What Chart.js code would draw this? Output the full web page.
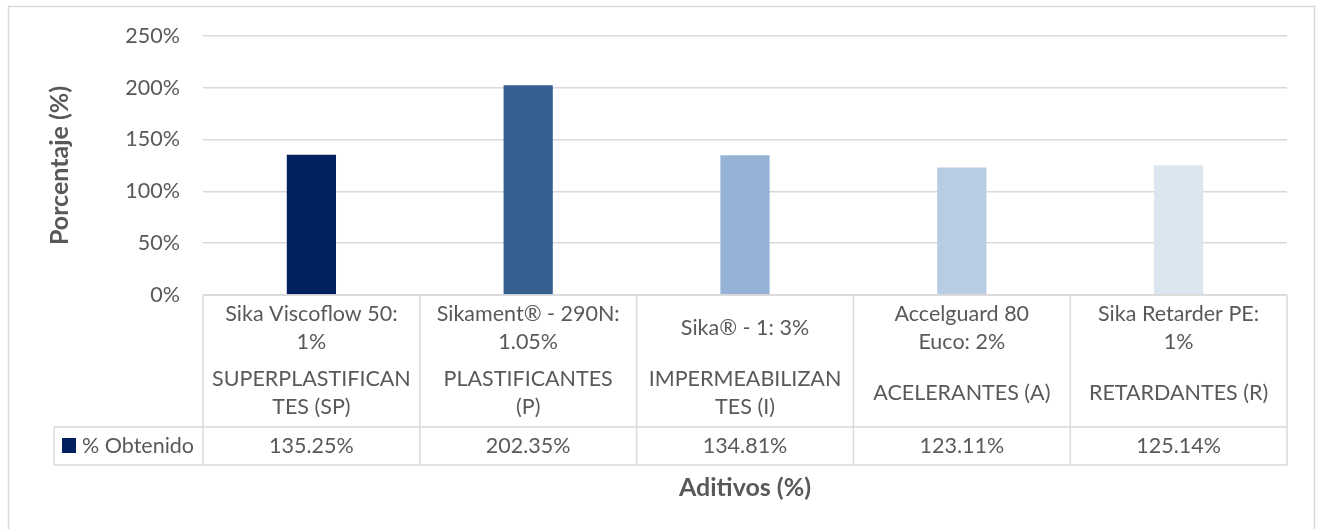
<!DOCTYPE html>
<html>
<head>
<meta charset="utf-8">
<script src="https://cdn.jsdelivr.net/npm/chart.js@4.4.1/dist/chart.umd.min.js"></script>
<style>
  html, body { margin: 0; padding: 0; background: #fff; }
  #wrap { width: 1319px; height: 529px; position: relative; }
</style>
</head>
<body>
<div id="wrap"><canvas id="aditivosChart"></canvas></div>
<script>
// data
const productos = [
  ["Sika Viscoflow 50:", "1%"],
  ["Sikament® - 290N:", "1.05%"],
  ["Sika® - 1: 3%"],
  ["Accelguard 80", "Euco: 2%"],
  ["Sika Retarder PE:", "1%"]
];
const grupos = [
  ["SUPERPLASTIFICAN", "TES (SP)"],
  ["PLASTIFICANTES", "(P)"],
  ["IMPERMEABILIZAN", "TES (I)"],
  ["ACELERANTES (A)"],
  ["RETARDANTES (R)"]
];
const obtenido = [135.25, 202.35, 134.81, 123.11, 125.14];
const serieNombre = "% Obtenido";
const barColors = ["#002060", "#376092", "#95b3d7", "#b8cce4", "#dce6f1"];
const yMin = 0, yMax = 250, yStep = 50;

const FONT = "Lato, 'Open Sans', sans-serif";
const TEXT = "#595959";
const LINE = "#d9d9d9";
const BODY_SIZE = 21.5;
const TITLE_SIZE = 25;

Chart.defaults.font.family = FONT;
Chart.defaults.color = TEXT;

// draws the frame, the Excel-like data table and the x title
const dataTablePlugin = {
  id: "dataTable",
  beforeDraw(chart) {
    const ctx = chart.ctx;
    ctx.save();
    ctx.strokeStyle = LINE;
    ctx.lineWidth = 1.5;
    ctx.strokeRect(8.5, 6.5, 1306, 560);
    ctx.restore();
  },
  afterDraw(chart) {
    const { ctx, chartArea, scales: { x } } = chart;
    const left = chartArea.left, right = chartArea.right;
    const top = chartArea.bottom;
    const split = top + 65;     // between product row and group row
    const rowMid = top + 132;   // top of the values row
    const bottom = top + 170;
    const legendLeft = 54;
    const step = x.getPixelForValue(1) - x.getPixelForValue(0);
    const bounds = obtenido.map((v, i) => x.getPixelForValue(i) - step / 2);
    bounds.push(right);

    ctx.save();
    ctx.strokeStyle = LINE;
    ctx.lineWidth = 1.5;
    ctx.beginPath();
    ctx.moveTo(left, top); ctx.lineTo(right, top);
    ctx.moveTo(legendLeft, rowMid); ctx.lineTo(right, rowMid);
    ctx.moveTo(legendLeft, bottom); ctx.lineTo(right, bottom);
    ctx.moveTo(legendLeft, rowMid); ctx.lineTo(legendLeft, bottom);
    bounds.forEach((bx) => { ctx.moveTo(bx, top); ctx.lineTo(bx, bottom); });
    ctx.stroke();

    ctx.fillStyle = TEXT;
    ctx.font = `${BODY_SIZE}px ${FONT}`;
    ctx.textAlign = "center";
    ctx.textBaseline = "middle";
    const lh = 28;
    const drawLines = (lines, cx, cy) => {
      const y0 = cy - (lines.length - 1) * lh / 2;
      lines.forEach((t, k) => ctx.fillText(t, cx, y0 + k * lh));
    };
    obtenido.forEach((v, i) => {
      const cx = x.getPixelForValue(i);
      drawLines(productos[i], cx, (top + split) / 2 + 1);
      drawLines(grupos[i], cx, (split + rowMid) / 2);
      ctx.fillText(v.toFixed(2) + "%", cx, (rowMid + bottom) / 2);
    });

    // legend key in the table
    ctx.fillStyle = barColors[0];
    ctx.fillRect(62, 438, 14, 15);
    ctx.fillStyle = TEXT;
    ctx.textAlign = "left";
    ctx.fillText(serieNombre, 82, (rowMid + bottom) / 2);

    // x axis title
    ctx.font = `bold ${TITLE_SIZE}px ${FONT}`;
    ctx.textAlign = "center";
    ctx.fillText("Aditivos (%)", (left + right) / 2, 488);
    ctx.restore();
  }
};

new Chart(document.getElementById("aditivosChart"), {
  type: "bar",
  data: {
    labels: productos,
    datasets: [{
      label: serieNombre,
      data: obtenido,
      backgroundColor: barColors,
      borderWidth: 0,
      barPercentage: 0.227,
      categoryPercentage: 1
    }]
  },
  options: {
    responsive: true,
    maintainAspectRatio: false,
    animation: false,
    layout: { padding: { left: 0, top: 35, right: 32, bottom: 234 } },
    plugins: {
      legend: { display: false },
      tooltip: { enabled: false }
    },
    scales: {
      x: { display: false },
      y: {
        min: yMin,
        max: yMax,
        ticks: {
          stepSize: yStep,
          padding: 23,
          font: { size: BODY_SIZE },
          callback: (v) => v + "%"
        },
        grid: { color: LINE, lineWidth: 1.5, drawTicks: false },
        border: { display: false },
        title: {
          display: true,
          text: "Porcentaje (%)",
          font: { size: TITLE_SIZE, weight: "bold" },
          padding: { top: 45, bottom: 0 }
        },
        afterFit: (scale) => { scale.width = 203; }
      }
    }
  },
  plugins: [dataTablePlugin]
});
</script>
</body>
</html>
